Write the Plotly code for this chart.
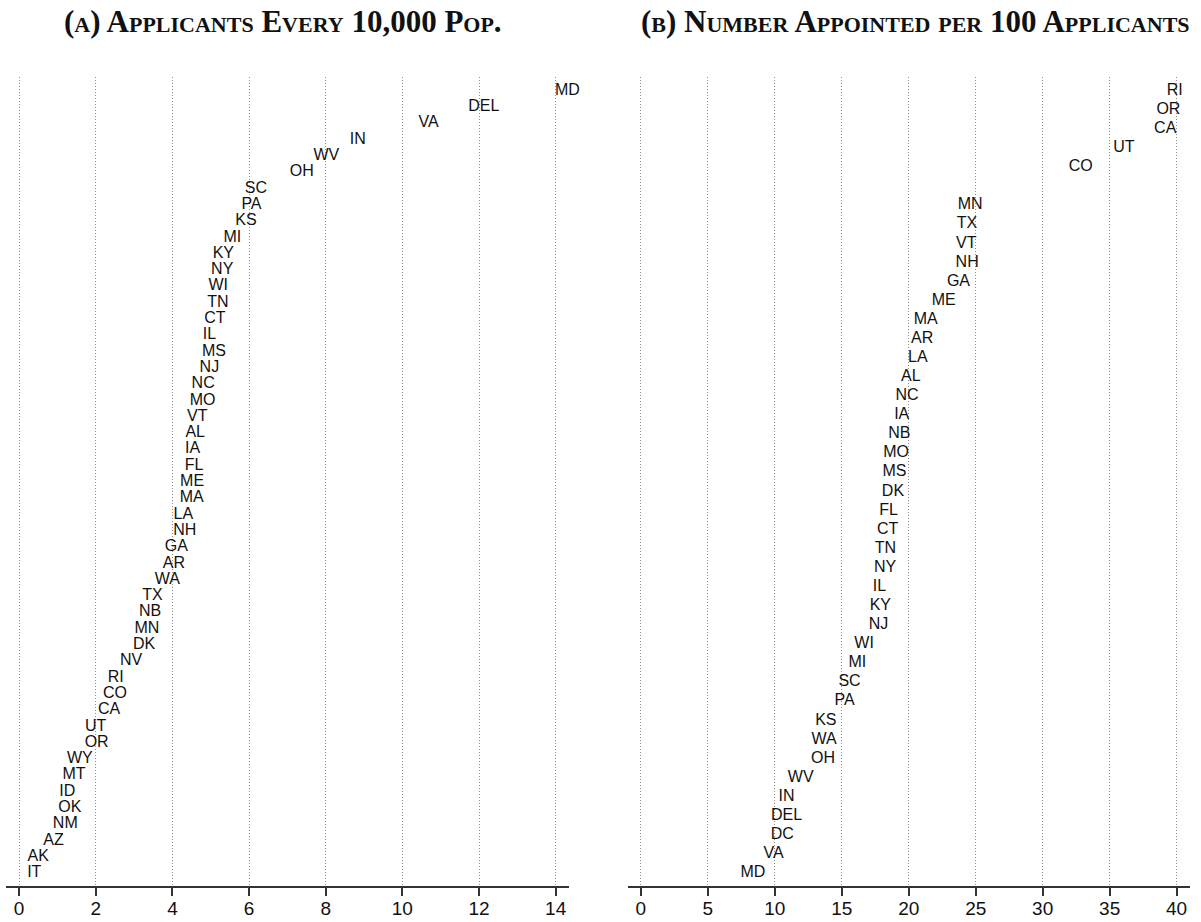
import plotly.graph_objects as go

# ---- Panel A: applicants for every 10,000 population (highest to lowest) ----
states_a = ["MD", "DEL", "VA", "IN", "WV", "OH", "SC", "PA", "KS", "MI",
            "KY", "NY", "WI", "TN", "CT", "IL", "MS", "NJ", "NC", "MO",
            "VT", "AL", "IA", "FL", "ME", "MA", "LA", "NH", "GA", "AR",
            "WA", "TX", "NB", "MN", "DK", "NV", "RI", "CO", "CA", "UT",
            "OR", "WY", "MT", "ID", "OK", "NM", "AZ", "AK", "IT"]
applicants_per_10k = [13.98, 11.72, 10.42, 8.63, 7.68, 7.06, 5.89, 5.80, 5.64, 5.33,
                      5.05, 5.01, 4.94, 4.91, 4.83, 4.79, 4.77, 4.71, 4.50, 4.45,
                      4.38, 4.34, 4.33, 4.32, 4.20, 4.19, 4.03, 4.02, 3.80, 3.75,
                      3.54, 3.21, 3.13, 3.01, 2.97, 2.63, 2.31, 2.19, 2.06, 1.72,
                      1.71, 1.25, 1.13, 1.05, 1.02, 0.88, 0.63, 0.22, 0.21]

# ---- Panel B: number appointed per 100 applicants (highest to lowest) ----
# the empty slot keeps the blank row between CO and MN
states_b = ["RI", "OR", "CA", "UT", "CO", "", "MN", "TX", "VT", "NH",
            "GA", "ME", "MA", "AR", "LA", "AL", "NC", "IA", "NB", "MO",
            "MS", "DK", "FL", "CT", "TN", "NY", "IL", "KY", "NJ", "WI",
            "MI", "SC", "PA", "KS", "WA", "OH", "WV", "IN", "DEL", "DC",
            "VA", "MD"]
appointed_per_100 = [39.26, 38.49, 38.32, 35.27, 31.94, None, 23.65, 23.59, 23.53, 23.50,
                     22.85, 21.71, 20.37, 20.17, 19.95, 19.43, 19.01, 18.91, 18.46, 18.09,
                     18.04, 17.99, 17.80, 17.63, 17.46, 17.41, 17.31, 17.08, 17.01, 15.94,
                     15.50, 14.75, 14.45, 13.01, 12.74, 12.71, 10.97, 10.28, 9.72, 9.70,
                     9.15, 7.44]

ticks_a = [0, 2, 4, 6, 8, 10, 12, 14]
ticks_b = [0, 5, 10, 15, 20, 25, 30, 35, 40]

title_a = "(a) Applicants Every 10,000 Pop."
title_b = "(b) Number Appointed per 100 Applicants"

W, H = 1201, 922
LABEL_FONT = dict(family="Liberation Sans, Arial, sans-serif", size=16, color="#111111")
TICK_FONT = dict(family="Liberation Sans, Arial, sans-serif", size=19, color="#111111")
TITLE_FONT = dict(family="Liberation Serif, serif", size=31, color="#111111",
                  weight="bold", variant="small-caps")

# row positions: first entry at the top
rows_a = [len(states_a) - 1 - i for i in range(len(states_a))]
rows_b = [len(states_b) - 1 - i for i in range(len(states_b))]

fig = go.Figure()
fig.add_trace(go.Scatter(
    x=applicants_per_10k, y=rows_a, text=states_a, mode="text",
    textposition="middle right", marker=dict(size=1),
    textfont=LABEL_FONT, cliponaxis=False, hoverinfo="skip",
    xaxis="x", yaxis="y", showlegend=False))
fig.add_trace(go.Scatter(
    x=appointed_per_100, y=rows_b, text=states_b, mode="text",
    textposition="middle right", marker=dict(size=1),
    textfont=LABEL_FONT, cliponaxis=False, hoverinfo="skip",
    xaxis="x2", yaxis="y2", showlegend=False))

y_dom = [36 / H, 1 - 77.3 / H]
common_x = dict(
    showline=True, linecolor="#333333", linewidth=2,
    ticks="outside", ticklen=8, tickwidth=2, tickcolor="#333333",
    ticklabelstandoff=-4,
    showgrid=True, gridcolor="#8c8c8c", gridwidth=1, griddash="1px,2px",
    zeroline=False, tickfont=TICK_FONT, fixedrange=True,
)
common_y = dict(showline=False, showgrid=False, zeroline=False,
                showticklabels=False, ticks="", fixedrange=True)

fig.update_layout(
    width=W, height=H,
    margin=dict(l=0, r=0, t=0, b=0),
    paper_bgcolor="white", plot_bgcolor="white",
    xaxis=dict(domain=[5.7 / W, 568.7 / W], range=[-0.35, 14.34],
               tickvals=ticks_a, ticktext=[str(t) for t in ticks_a],
               anchor="y", **common_x),
    yaxis=dict(domain=y_dom, range=[-0.78, len(states_a) - 1 + 0.83],
               anchor="x", **common_y),
    xaxis2=dict(domain=[627.5 / W, 1190 / W], range=[-1.0, 41.0],
                tickvals=ticks_b, ticktext=[str(t) for t in ticks_b],
                anchor="y2", **common_x),
    yaxis2=dict(domain=y_dom, range=[-0.67, len(states_b) - 1 + 0.71],
                anchor="x2", **common_y),
    annotations=[
        dict(text=title_a, x=283 / W, y=1 - 21 / H, xref="paper", yref="paper",
             xanchor="center", yanchor="middle", showarrow=False, font=TITLE_FONT),
        dict(text=title_b, x=915 / W, y=1 - 21 / H, xref="paper", yref="paper",
             xanchor="center", yanchor="middle", showarrow=False, font=TITLE_FONT),
    ],
)

fig.write_html("out.html")
